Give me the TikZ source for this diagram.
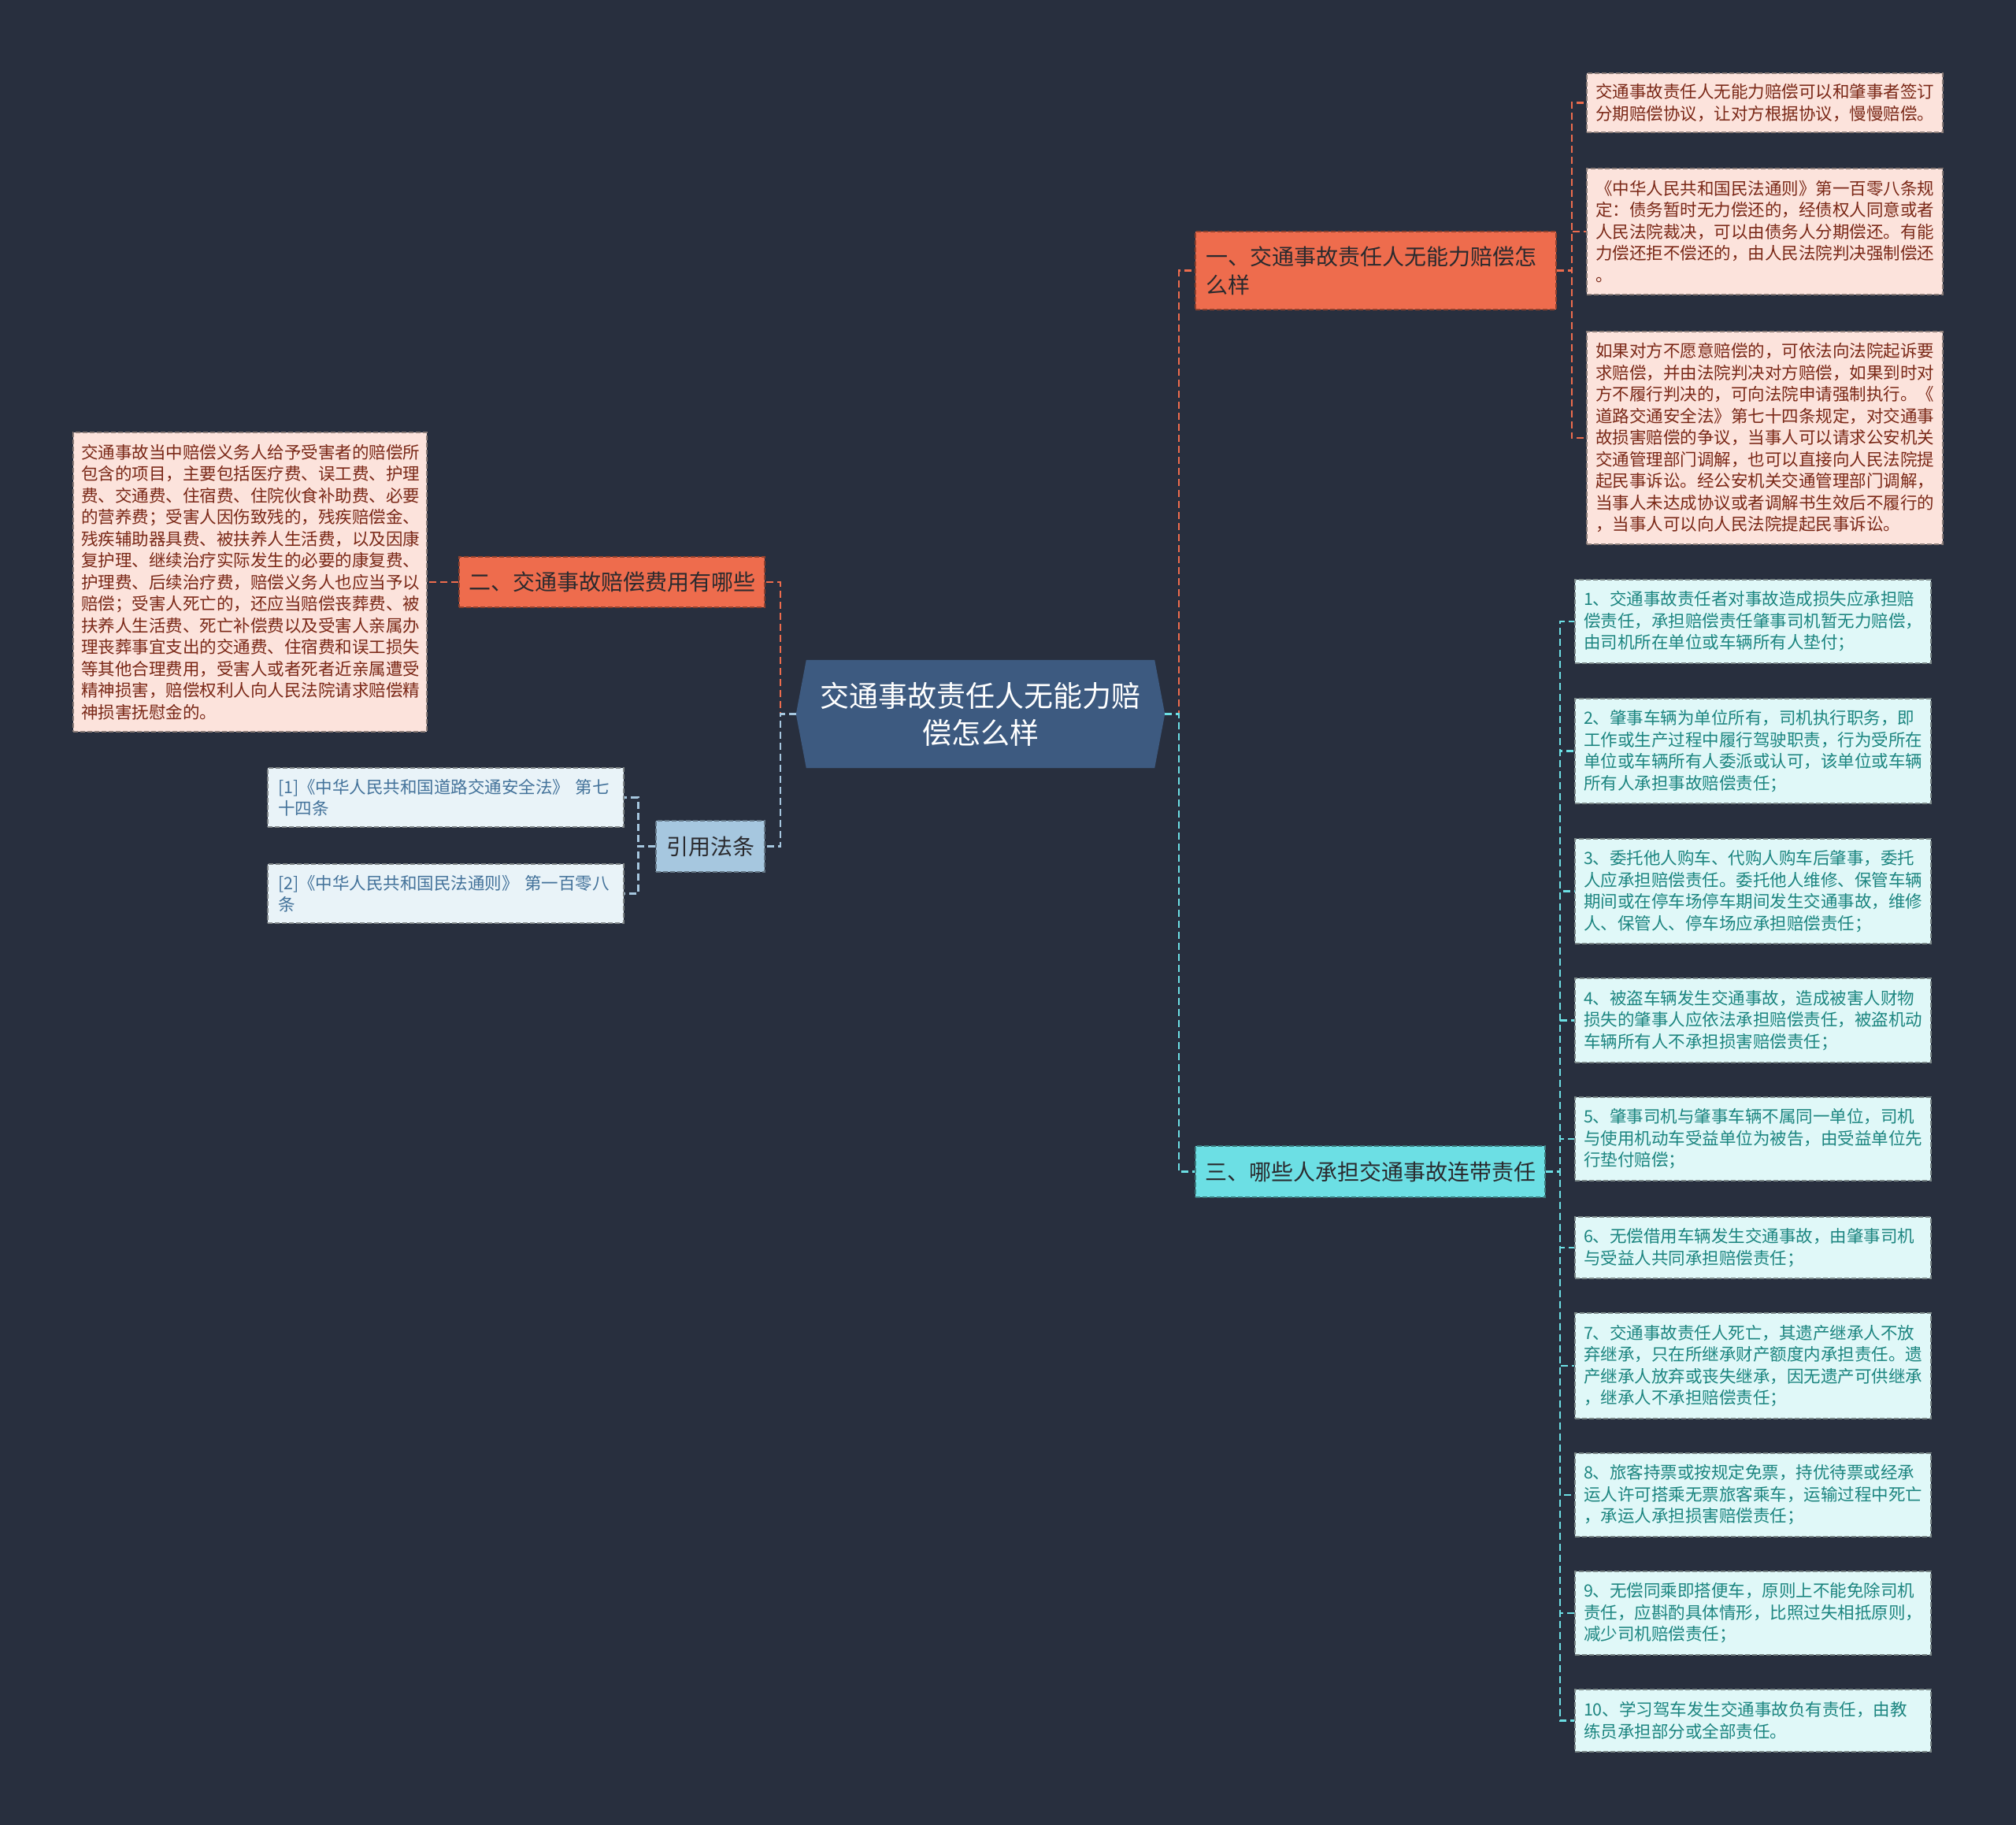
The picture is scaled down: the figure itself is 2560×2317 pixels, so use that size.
\documentclass[tikz,border=0pt]{standalone}
\usepackage{fontspec}
\setmainfont{Noto Sans CJK SC}
\usetikzlibrary{calc}
\definecolor{bg}{HTML}{282F3E}
\definecolor{cfill}{HTML}{3D5A80}
\definecolor{orng}{HTML}{EE6C4D}
\definecolor{pinkf}{HTML}{FCE3DC}
\definecolor{pinkt}{HTML}{7A2817}
\definecolor{reff}{HTML}{E9F3F8}
\definecolor{reft}{HTML}{43729A}
\definecolor{refn}{HTML}{A6C7DF}
\definecolor{cyan1}{HTML}{6CDFE4}
\definecolor{cyanf}{HTML}{E0F8F8}
\definecolor{cyant}{HTML}{1C8580}
\definecolor{darkt}{HTML}{2A2A2E}
\newcommand\leaffont{\fontsize{21.5}{27.5}\selectfont}
\newcommand\topfont{\fontsize{28}{36}\selectfont}
\newcommand\cenfont{\fontsize{37}{47}\selectfont}
\tikzset{
  base/.style={rectangle, inner ysep=0pt, anchor=center, line width=1.5pt, dash pattern=on 6pt off 3pt},
  pinkleaf/.style={base, fill=pinkf, draw=pinkf!55!black, text=pinkt, font=\leaffont, align=left, inner xsep=11pt, text width=430pt, minimum width=452pt},
  refleaf/.style={base, fill=reff, draw=reff!55!black, text=reft, font=\leaffont, align=left, inner xsep=13pt, text width=426pt, minimum width=452pt},
  cyanleaf/.style={base, fill=cyanf, draw=cyanf!55!black, text=cyant, font=\leaffont, align=left, inner xsep=11pt, text width=430pt, minimum width=452pt},
  topnode/.style={base, font=\topfont, text=darkt},
  conO/.style={draw=orng, line width=2.5pt, dash pattern=on 9pt off 5pt},
  conB/.style={draw=refn, line width=2.5pt, dash pattern=on 9pt off 5pt},
  conC/.style={draw=cyan1, line width=2.5pt, dash pattern=on 9pt off 5pt},
}
\begin{document}
\begin{tikzpicture}[x=1pt,y=-1pt]
\useasboundingbox (0,0) rectangle (2560,2317);
\fill[bg] (0,0) rectangle (2560,2317);

% center
\node (c) [minimum width=468pt, minimum height=137pt, inner sep=0pt] at (1245,906.5) {};
\fill[cfill] (c.west) -- ($(c.north west)+(13,0)$) -- ($(c.north east)+(-13,0)$) -- (c.east) -- ($(c.south east)+(-13,0)$) -- ($(c.south west)+(13,0)$) -- cycle;
\node (ctext) [font=\cenfont, text=white, align=center] at (c) {交通事故责任人无能力赔\\偿怎么样};

% top-level nodes
\node (n1) [topnode, fill=orng, draw=orng!60!black, minimum width=458pt, minimum height=99pt, inner xsep=13pt, text width=432pt, align=left] at (1747,343.5) {一、交通事故责任人无能力赔偿怎\\么样};
\node (n2) [topnode, fill=orng, draw=orng!60!black, minimum width=388pt, minimum height=64pt, align=center] at (777,739) {二、交通事故赔偿费用有哪些};
\node (nr) [topnode, fill=refn, draw=refn!60!black, minimum width=138pt, minimum height=65pt, align=center] at (902,1074.5) {引用法条};
\node (n3) [topnode, fill=cyan1, draw=cyan1!55!black, minimum width=444pt, minimum height=65pt, align=center] at (1740,1487.5) {三、哪些人承担交通事故连带责任};

% leaves of n1
\node (a1) [pinkleaf, minimum height=75pt] at (2241,130.5) {交通事故责任人无能力赔偿可以和肇事者签订\\分期赔偿协议，让对方根据协议，慢慢赔偿。};
\node (a2) [pinkleaf, minimum height=160pt] at (2241,294) {《中华人民共和国民法通则》第一百零八条规\\定：债务暂时无力偿还的，经债权人同意或者\\人民法院裁决，可以由债务人分期偿还。有能\\力偿还拒不偿还的，由人民法院判决强制偿还\\。};
\node (a3) [pinkleaf, minimum height=270pt] at (2241,556) {如果对方不愿意赔偿的，可依法向法院起诉要\\求赔偿，并由法院判决对方赔偿，如果到时对\\方不履行判决的，可向法院申请强制执行。《\\道路交通安全法》第七十四条规定，对交通事\\故损害赔偿的争议，当事人可以请求公安机关\\交通管理部门调解，也可以直接向人民法院提\\起民事诉讼。经公安机关交通管理部门调解，\\当事人未达成协议或者调解书生效后不履行的\\，当事人可以向人民法院提起民事诉讼。};

% leaf of n2
\node (b1) [pinkleaf, inner xsep=10pt, text width=429pt, minimum width=449pt, minimum height=380pt] at (317.5,739) {交通事故当中赔偿义务人给予受害者的赔偿所\\包含的项目，主要包括医疗费、误工费、护理\\费、交通费、住宿费、住院伙食补助费、必要\\的营养费；受害人因伤致残的，残疾赔偿金、\\残疾辅助器具费、被扶养人生活费，以及因康\\复护理、继续治疗实际发生的必要的康复费、\\护理费、后续治疗费，赔偿义务人也应当予以\\赔偿；受害人死亡的，还应当赔偿丧葬费、被\\扶养人生活费、死亡补偿费以及受害人亲属办\\理丧葬事宜支出的交通费、住宿费和误工损失\\等其他合理费用，受害人或者死者近亲属遭受\\精神损害，赔偿权利人向人民法院请求赔偿精\\神损害抚慰金的。};

% reference leaves
\node (r1) [refleaf, minimum height=75pt] at (566,1012.5) {[1]《中华人民共和国道路交通安全法》 第七\\十四条};
\node (r2) [refleaf, minimum height=75pt] at (566,1134.5) {[2]《中华人民共和国民法通则》 第一百零八\\条};

% leaves of n3
\node (s1) [cyanleaf, minimum height=106pt] at (2226,789) {1、交通事故责任者对事故造成损失应承担赔\\偿责任，承担赔偿责任肇事司机暂无力赔偿，\\由司机所在单位或车辆所有人垫付；};
\node (s2) [cyanleaf, minimum height=133pt] at (2226,953.5) {2、肇事车辆为单位所有，司机执行职务，即\\工作或生产过程中履行驾驶职责，行为受所在\\单位或车辆所有人委派或认可，该单位或车辆\\所有人承担事故赔偿责任；};
\node (s3) [cyanleaf, minimum height=133pt] at (2226,1131.5) {3、委托他人购车、代购人购车后肇事，委托\\人应承担赔偿责任。委托他人维修、保管车辆\\期间或在停车场停车期间发生交通事故，维修\\人、保管人、停车场应承担赔偿责任；};
\node (s4) [cyanleaf, minimum height=107pt] at (2226,1295.5) {4、被盗车辆发生交通事故，造成被害人财物\\损失的肇事人应依法承担赔偿责任，被盗机动\\车辆所有人不承担损害赔偿责任；};
\node (s5) [cyanleaf, minimum height=106pt] at (2226,1446) {5、肇事司机与肇事车辆不属同一单位，司机\\与使用机动车受益单位为被告，由受益单位先\\行垫付赔偿；};
\node (s6) [cyanleaf, minimum height=78pt] at (2226,1584) {6、无偿借用车辆发生交通事故，由肇事司机\\与受益人共同承担赔偿责任；};
\node (s7) [cyanleaf, minimum height=134pt] at (2226,1734) {7、交通事故责任人死亡，其遗产继承人不放\\弃继承，只在所继承财产额度内承担责任。遗\\产继承人放弃或丧失继承，因无遗产可供继承\\，继承人不承担赔偿责任；};
\node (s8) [cyanleaf, minimum height=106pt] at (2226,1898) {8、旅客持票或按规定免票，持优待票或经承\\运人许可搭乘无票旅客乘车，运输过程中死亡\\，承运人承担损害赔偿责任；};
\node (s9) [cyanleaf, minimum height=106pt] at (2226,2048) {9、无偿同乘即搭便车，原则上不能免除司机\\责任，应斟酌具体情形，比照过失相抵原则，\\减少司机赔偿责任；};
\node (s10) [cyanleaf, minimum height=79pt] at (2226,2184.5) {10、学习驾车发生交通事故负有责任，由教\\练员承担部分或全部责任。};

% connectors: center
\draw[conO] (c.east) -- ++(18,0) |- (n1.west);
\draw[conC] (c.east) -- ++(18,0) |- (n3.west);
\draw[conO] (c.west) -- ++(-20,0) |- (n2.east);
\draw[conB] (c.west) -- ++(-20,0) |- (nr.east);

% n1 children
\foreach \t in {a1,a2,a3} \draw[conO] (n1.east) -- ++(19,0) |- (\t.west);
% n2 child
\draw[conO] (n2.west) -- (b1.east);
% ref children
\foreach \t in {r1,r2} \draw[conB] (nr.west) -- ++(-22,0) |- (\t.east);
% n3 children
\foreach \t in {s1,s2,s3,s4,s5,s6,s7,s8,s9,s10} \draw[conC] (n3.east) -- ++(18,0) |- (\t.west);
\end{tikzpicture}
\end{document}
